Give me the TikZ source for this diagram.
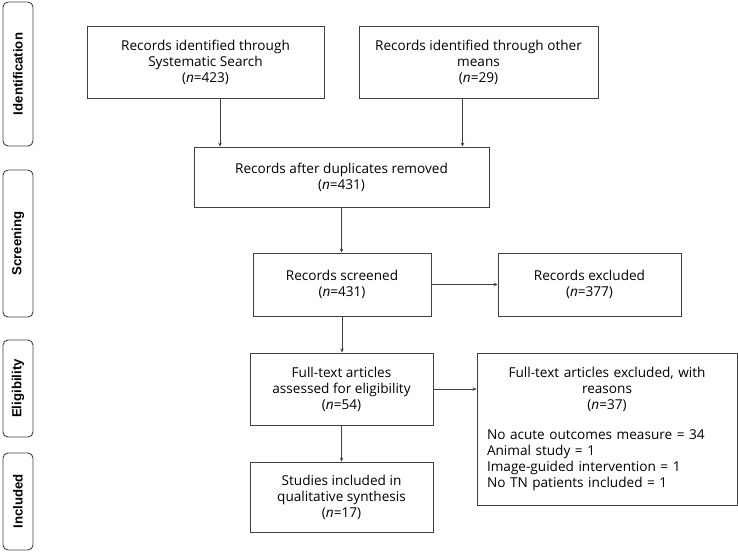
\documentclass[tikz,border=0pt]{standalone}
\usepackage{fontspec}
\setmainfont{Open Sans}
\newfontfamily\phasefont{Liberation Sans}
\usetikzlibrary{arrows.meta}
\tikzset{
  flowbox/.style={shape=rectangle, draw=black!75, line width=0.9pt, inner sep=0, align=center, font=\fontsize{13.6}{16}\selectfont},
  phasebox/.style={shape=rectangle, draw=black!75, line width=0.9pt, rounded corners=5pt, inner sep=0, minimum width=30pt, font=\phasefont\fontsize{13.2}{14}\selectfont\bfseries},
  arr/.style={draw=black!75, line width=0.8pt, -{Stealth[length=4pt, width=3.5pt]}}
}
\begin{document}
\begin{tikzpicture}[x=1pt, y=-1pt]
  \useasboundingbox (0,0) rectangle (738,552);
  % Phase labels:
  \node[phasebox, minimum height=144pt] (identification) at (18, 74){\rotatebox{90}{Identification}};
  \node[phasebox, minimum height=147pt] (screening) at (18, 243.5){\rotatebox{90}{Screening}};
  \node[phasebox, minimum height=97pt] (eligibility) at (18, 388.5){\rotatebox{90}{Eligibility}};
  \node[phasebox, minimum height=97pt] (included) at (18, 501.5){\rotatebox{90}{Included}};
  % Boxes:
  \node[flowbox, minimum width=237pt, minimum height=72pt] (systematic) at (205.5, 62){Records identified through\\Systematic Search\\(\textit{n}=423)};
  \node[flowbox, minimum width=239pt, minimum height=72pt] (othermeans) at (478.5, 62){Records identified through other\\means\\(\textit{n}=29)};
  \node[flowbox, minimum width=295pt, minimum height=60pt] (duplicates) at (341.5, 177){Records after duplicates removed\\(\textit{n}=431)};
  \node[flowbox, minimum width=178pt, minimum height=63pt] (screened) at (342, 284.5){Records screened\\(\textit{n}=431)};
  \node[flowbox, minimum width=183pt, minimum height=63pt] (excluded) at (589.5, 284.5){Records excluded\\(\textit{n}=377)};
  \node[flowbox, minimum width=183pt, minimum height=72pt] (fulltext) at (341.5, 389){Full-text articles\\assessed for eligibility\\(\textit{n}=54)};
  \node[flowbox, minimum width=183pt, minimum height=70pt] (synthesis) at (341.5, 497){Studies included in\\qualitative synthesis\\(\textit{n}=17)};
  \node[flowbox, minimum width=260pt, minimum height=152pt, text width=240pt, align=left] (reasons) at (607, 429){%
    {\centering Full-text articles excluded, with\\reasons\\(\textit{n}=37)\par}\vspace{14pt}
    No acute outcomes measure = 34\\
    Animal study = 1\\
    Image-guided intervention = 1\\
    No TN patients included = 1\par\vspace{12pt}};
  % Connectors:
  \draw[arr] ([xshift=14.5pt]systematic.south) -- ([xshift=14.5pt]systematic.south |- duplicates.north);
  \draw[arr] ([xshift=-16pt]othermeans.south) -- ([xshift=-16pt]othermeans.south |- duplicates.north);
  \draw[arr] (duplicates.south) -- (duplicates.south |- screened.north);
  \draw[arr] (screened.east) -- (screened.east -| excluded.west);
  \draw[arr] (screened.south) -- (screened.south |- fulltext.north);
  \draw[arr] (fulltext.east) -- (fulltext.east -| reasons.west);
  \draw[arr] (fulltext.south) -- (synthesis.north);
\end{tikzpicture}
\end{document}
